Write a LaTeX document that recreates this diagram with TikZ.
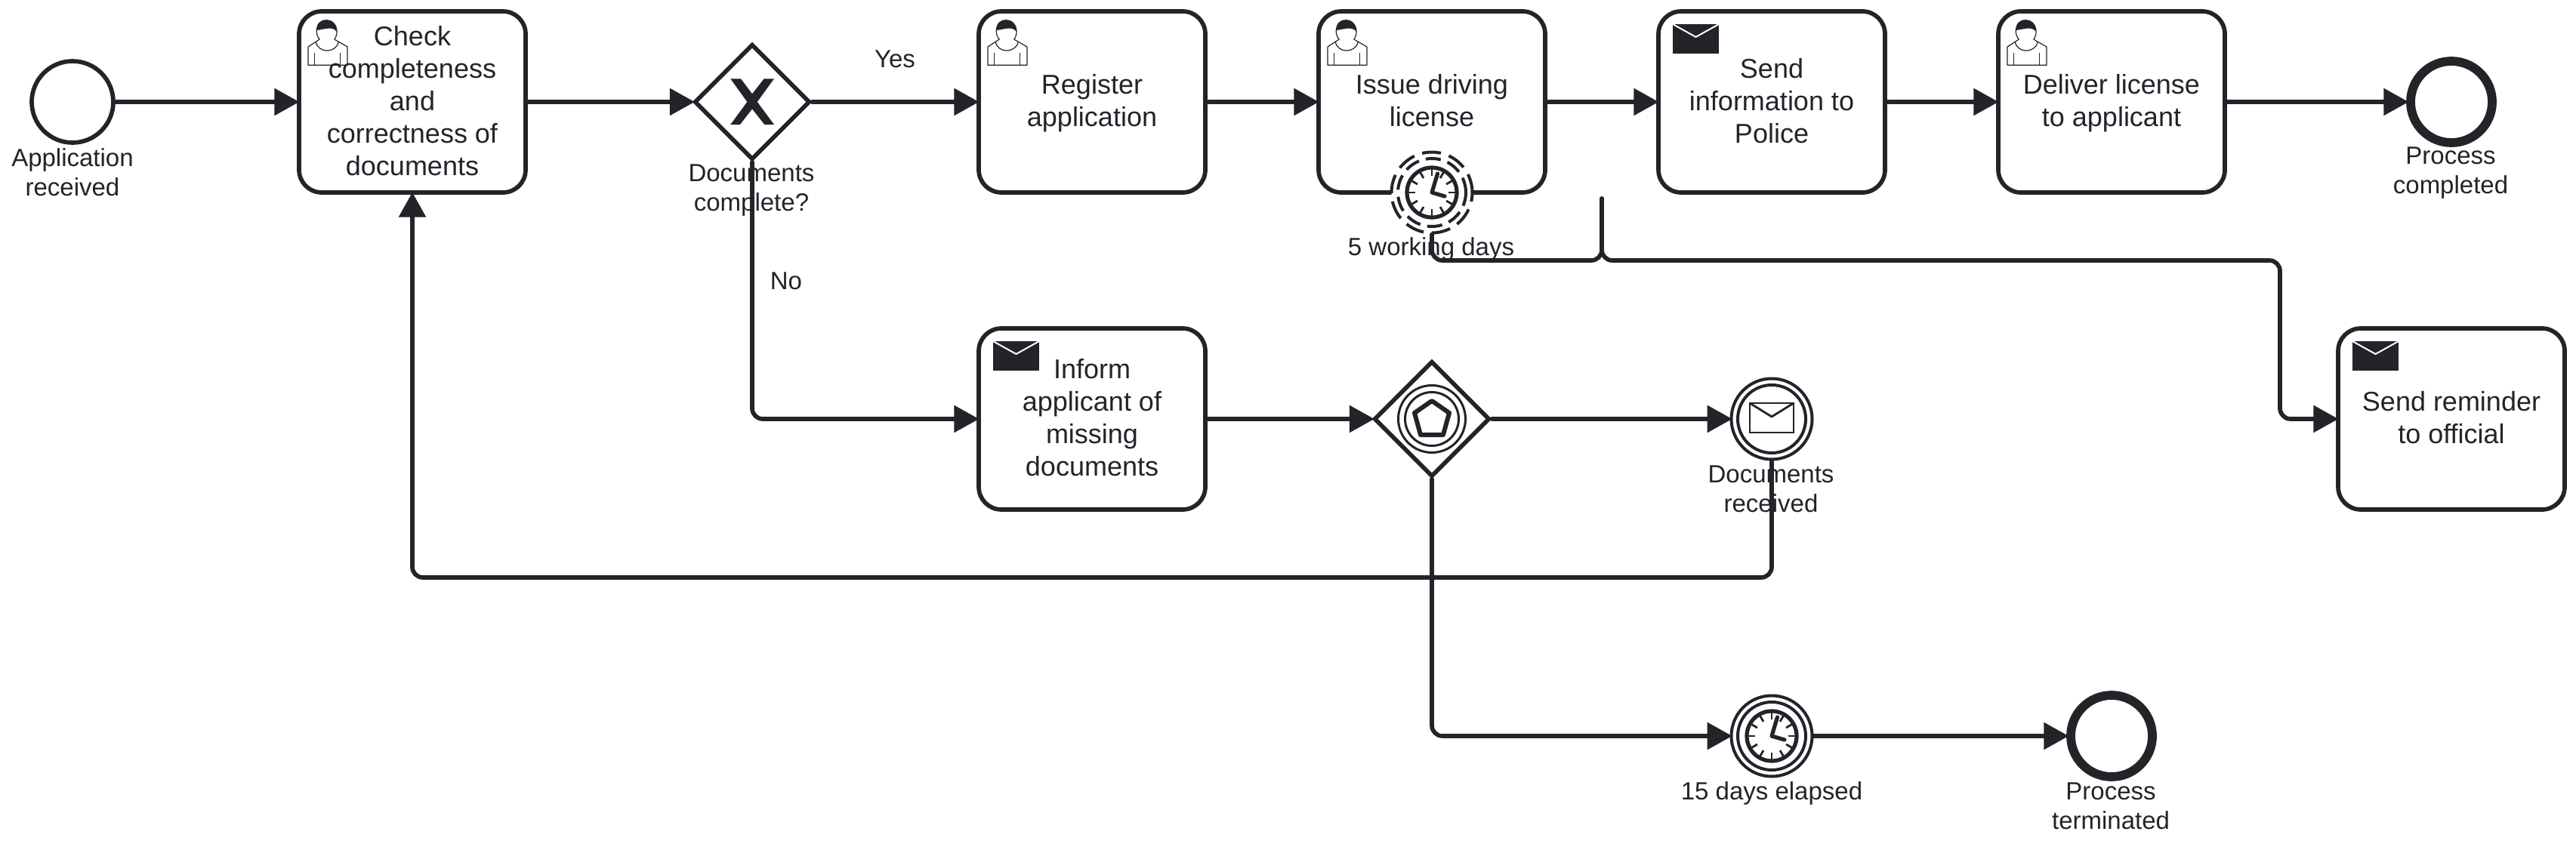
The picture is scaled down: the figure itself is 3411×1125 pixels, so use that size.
\documentclass[tikz,border=0pt]{standalone}
\usepackage{fontspec}
\setmainfont{Liberation Sans}
\usetikzlibrary{arrows.meta,shapes.geometric}
\definecolor{ink}{HTML}{22242A}
\tikzset{
  task/.style={draw=ink,line width=2.85pt,fill=white,rounded corners=15pt,minimum width=150pt,minimum height=120pt,inner sep=0pt,align=center,text=ink,text depth=1.9pt,font=\fontsize{18}{21.5}\selectfont},
  lab/.style={inner sep=0pt,align=center,text=ink,font=\fontsize{16.5}{19.5}\selectfont},
  gate/.style={draw=ink,line width=2.85pt,fill=white,diamond,aspect=1,inner sep=0pt,minimum width=76.5pt,minimum height=76.5pt},
  startev/.style={draw=ink,line width=2.85pt,fill=white,circle,inner sep=0pt,minimum size=54pt},
  endev/.style={draw=ink,line width=5.9pt,fill=white,circle,inner sep=0pt,minimum size=54pt},
  interev/.style={draw=ink,line width=2pt,fill=white,circle,inner sep=0pt,minimum size=53.5pt},
  interin/.style={draw=ink,line width=2pt,circle,inner sep=0pt,minimum size=45pt},
  flow/.style={draw=ink,line width=2.85pt,line cap=round,line join=round,rounded corners=7pt},
  arrowflow/.style={flow,shorten >=-1.6pt,-{Triangle[length=16.5pt,width=17.5pt]}},
  usericon/.pic={
    \draw[ink,line width=.6pt,line join=round] (27.3,37) .. controls (20,30) and (22,13) .. (36.7,12.5) .. controls (51,13) and (53,30) .. (46.7,37);
    \fill[ink] (23.4,25) .. controls (22,6) and (51,6) .. (50,27) .. controls (44,19) and (34,24) .. (23.4,25) -- cycle;
    \draw[ink,line width=.6pt,line join=round] (27.3,37) -- (22.3,40.3) -- (12,47) -- (12,71.3) -- (64,71.3) -- (64,47) -- (52.3,40.3) -- (46.7,37);
    \draw[ink,line width=.6pt] (22.3,40.3) .. controls (25,56) and (49,56) .. (52.3,40.3);
    \draw[ink,line width=.6pt] (20.7,55.3) -- (20.7,71.3) (54.7,55.3) -- (54.7,71.3);
  },
  mailicon/.pic={
    \fill[ink] (19,17) rectangle (80,56);
    \draw[white,line width=1pt] (19,17) -- (49.5,34) -- (80,17);
  },
  clockicon/.pic={
    \draw[ink,line width=2.6pt,fill=white] (0,0) circle[radius=33];
    \foreach \a in {0,30,...,330} \draw[ink,line width=1.4pt] (\a:22) -- (\a:32);
    \draw[ink,line width=2.6pt,line cap=round,line join=round] (7.5,-25) -- (0,0) -- (17,5);
  }
}
\begin{document}
\begin{tikzpicture}[x=0.5pt,y=-0.5pt]
\useasboundingbox (0,0) rectangle (3411,1125);
\fill[white] (0,0) rectangle (3411,1125);
% tasks
\node[task] (t1) at (546,135) {Check\\completeness\\and\\correctness of\\documents};
\node[task] (t2) at (1446,135) {Register\\application};
\node[task] (t3) at (1896,135) {Issue driving\\license};
\node[task] (t4) at (2346,135) {Send\\information to\\Police};
\node[task] (t5) at (2796,135) {Deliver license\\to applicant};
\node[task] (t6) at (1446,555) {Inform\\applicant of\\missing\\documents};
\node[task] (t7) at (3246,555) {Send reminder\\to official};
\pic at (396,15) {usericon};
\pic at (1296,15) {usericon};
\pic at (1746,15) {usericon};
\pic at (2646,15) {usericon};
\pic at (2196,15) {mailicon};
\pic at (1296,435) {mailicon};
\pic at (3096,435) {mailicon};
% events
\node[startev] (s) at (96,135) {};
\node[endev] (e1) at (3246,135) {};
\node[endev] (e2) at (2796,975) {};
% gateways
\node[gate] (g1) at (996,135) {};
\fill[ink] (996,135) ++(-28.7,-30.7) -- ++(13.7,0) -- ++(15,20) -- ++(15.7,-20) -- ++(13.3,0) -- ++(-22.3,30.7) -- ++(22.3,30) -- ++(-12.7,0) -- ++(-16.3,-20.7) -- ++(-16,20.7) -- ++(-12.7,0) -- ++(22,-30) -- cycle;
\node[gate] (g2) at (1896,555) {};
\node[circle,draw=ink,line width=1.5pt,inner sep=0pt,minimum size=44.5pt] (g2a) at (g2.center) {};
\node[circle,draw=ink,line width=1.5pt,inner sep=0pt,minimum size=35.5pt] (g2b) at (g2.center) {};
\draw[ink,line width=3pt,line join=round] (1896,555) ++(0,-24) -- ++(23,16) -- ++(-8,29) -- ++(-30,0) -- ++(-8,-29) -- cycle;
% intermediate events
\node[interev] (msg) at (2346,555) {};
\node[interin] (msgb) at (msg.center) {};
\draw[ink,line width=1.4pt] (2317,534) rectangle (2375,573);
\draw[ink,line width=1.4pt] (2317,534) -- (2346,552) -- (2375,534);
\node[interev] (tim) at (2346,975) {};
\node[interin] (timb) at (tim.center) {};
\pic at (tim.center) {clockicon};
\node[interev,dash pattern=on 12.5pt off 5.5pt] (bnd) at (1896,255) {};
\node[interin,dash pattern=on 10pt off 4.7pt] (bndb) at (bnd.center) {};
\pic at (bnd.center) {clockicon};
% labels
\node[lab] (ls) at (96,228) {Application\\received};
\node[lab] (lyes) at (1185,78) {Yes};
\node[lab] (lno) at (1041,372) {No};
\node[lab] (lg1) at (995,252) {Documents\\complete?};
\node[lab] (le1) at (3245,229) {Process\\completed};
\node[lab] (lb) at (1895,330) {5 working days};
\node[lab] (lm) at (2345,648) {Documents\\received};
\node[lab] (lt) at (2346,1051) {15 days elapsed};
\node[lab] (le2) at (2795,1068) {Process\\terminated};
% connector waypoints
\coordinate (merge) at (2121,263);
\coordinate (jog) at (2121,345);
\coordinate (bend) at (3019,345);
\coordinate (back) at (2346,765);
% connectors
\draw[arrowflow] (s.east) -- (t1.west);
\draw[arrowflow] (t1.east) -- (g1.west);
\draw[arrowflow] (g1.east) -- (t2.west);
\draw[arrowflow] (t2.east) -- (t3.west);
\draw[arrowflow] (t3.east) -- (t4.west);
\draw[arrowflow] (t4.east) -- (t5.west);
\draw[arrowflow] (t5.east) -- (e1.west);
\draw[arrowflow] (g1.south) |- (t6.west);
\draw[arrowflow] (t6.east) -- (g2.west);
\draw[arrowflow] (g2.east) -- (msg.west);
\draw[arrowflow] (g2.south) |- (tim.west);
\draw[arrowflow] (tim.east) -- (e2.west);
\draw[arrowflow] (msg.south) -- (back) -| (t1.south);
\draw[flow] (bnd.south) |- (jog) -- (merge);
\draw[arrowflow] (merge) -- (jog) -- (bend) |- (t7.west);
\end{tikzpicture}
\end{document}
